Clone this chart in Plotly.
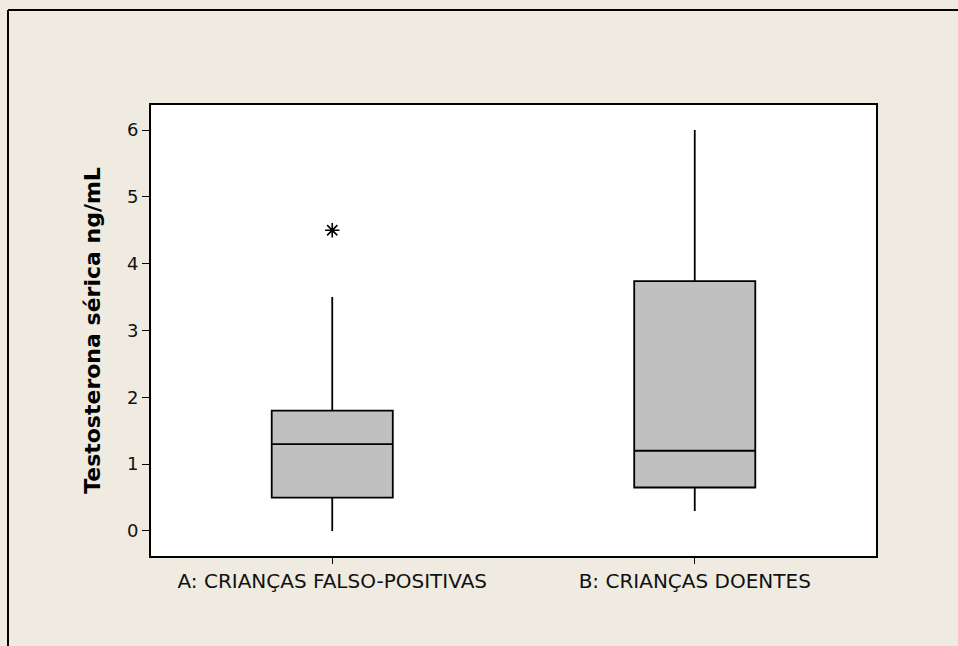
import plotly.graph_objects as go

# Summary statistics of serum testosterone per group (ng/mL)
groups = ["A: CRIANÇAS FALSO-POSITIVAS", "B: CRIANÇAS DOENTES"]
q1 = [0.5, 0.65]
median = [1.3, 1.2]
q3 = [1.8, 3.74]
lower_whisker = [0.0, 0.3]
upper_whisker = [3.5, 6.0]
outlier_group = ["A: CRIANÇAS FALSO-POSITIVAS"]
outlier_value = [4.5]

y_ticks = [0, 1, 2, 3, 4, 5, 6]

W, H = 958, 646
L, R, T, B = 151, 82, 105, 90
BG = "#EFEBE1"
FONT = "DejaVu Sans"

fig = go.Figure()

fig.add_trace(go.Box(
    x=groups,
    q1=q1,
    median=median,
    q3=q3,
    lowerfence=lower_whisker,
    upperfence=upper_whisker,
    fillcolor="#C0C0C0",
    line=dict(color="black", width=1.8),
    whiskerwidth=0,
    width=0.334,
    boxpoints=False,
    hoverinfo="skip",
    showlegend=False,
))

fig.add_trace(go.Scatter(
    x=outlier_group,
    y=outlier_value,
    mode="markers",
    marker=dict(symbol="asterisk-open", size=12, color="black",
                line=dict(color="black", width=1.6)),
    hoverinfo="skip",
    showlegend=False,
))

# Outer frame (left and top edges of the graph window)
pw, ph = W - L - R, H - T - B
fx = (8 - L) / pw
fy = (H - B - 10) / ph
fx_end = (W - L) / pw
fig.add_shape(type="line", xref="paper", yref="paper",
              x0=fx, x1=fx, y0=-1, y1=fy, line=dict(color="black", width=2))
fig.add_shape(type="line", xref="paper", yref="paper",
              x0=fx, x1=fx_end, y0=fy, y1=fy, line=dict(color="black", width=2))

fig.update_layout(
    width=W, height=H,
    margin=dict(l=L, r=R, t=T, b=B),
    paper_bgcolor=BG,
    plot_bgcolor="white",
    font=dict(family=FONT, size=18, color="black"),
    xaxis=dict(
        type="category",
        range=[-0.5, 1.5],
        showline=True, mirror=True, linecolor="black", linewidth=2,
        ticks="outside", ticklen=6, tickcolor="black", tickwidth=1.2,
        showgrid=False, zeroline=False,
        tickfont=dict(family=FONT, size=20, color="#111111"),
    ),
    yaxis=dict(
        range=[-0.375, 6.375],
        tickvals=y_ticks,
        showline=True, mirror=True, linecolor="black", linewidth=2,
        ticks="outside", ticklen=7, tickcolor="black", tickwidth=1.2,
        showgrid=False, zeroline=False,
        tickfont=dict(family=FONT, size=18, color="#111111"),
        title=dict(text="<b>Testosterona sérica ng/mL</b>",
                   font=dict(family=FONT, size=22), standoff=20),
    ),
)

fig.write_html("out.html")
